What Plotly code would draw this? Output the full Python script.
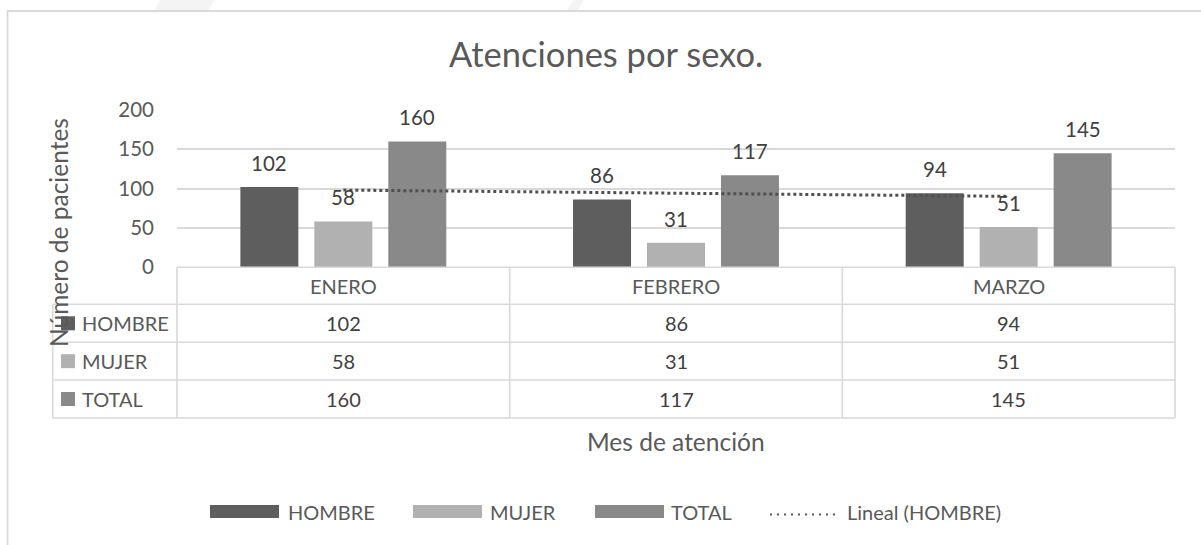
import numpy as np
import plotly.graph_objects as go

# ---------------- data ----------------
months = ["ENERO", "FEBRERO", "MARZO"]
hombre = [102, 86, 94]
mujer = [58, 31, 51]
total = [160, 117, 145]
series_names = ["HOMBRE", "MUJER", "TOTAL"]
trend_name = "Lineal (HOMBRE)"
y_ticks = [0, 50, 100, 150, 200]

title_text = "Atenciones por sexo."
y_title = "Número de pacientes"
x_title = "Mes de atención"

# ---------------- style ----------------
W, H = 1201, 545
L, R, T, B = 177, 1175, 110, 267       # plot area in pixels
FONT = "Lato"
TXT = "#595959"
LBL = "#404040"
GRID = "#d9d9d9"
colors = ["#5e5e5e", "#b1b1b1", "#898989"]
BARGAP = 0.333
GROUPGAP = 0.216


def px(x):
    return (x - L) / (R - L)


def py(y):
    return (B - y) / (B - T)


series = [hombre, mujer, total]

fig = go.Figure()
for name, vals, col in zip(series_names, series, colors):
    fig.add_trace(go.Bar(x=months, y=vals, name=name, marker=dict(color=col, line=dict(width=0)),
                         showlegend=False, hoverinfo="skip"))

# linear trendline of HOMBRE
xi = np.arange(1, len(hombre) + 1)
slope, intercept = np.polyfit(xi, hombre, 1)
trend = slope * xi + intercept
fig.add_trace(go.Scatter(x=months, y=trend, mode="lines", name=trend_name,
                         line=dict(color="#505050", width=3, dash="3px,3px"),
                         showlegend=False, hoverinfo="skip"))

annotations = []
shapes = []

# data labels above bars
slot = (R - L) / len(months) * (1 - BARGAP) / len(series)
for si, vals in enumerate(series):
    for m, v in zip(months, vals):
        annotations.append(dict(x=m, y=v, xref="x", yref="y", text=str(v), showarrow=False,
                                xshift=(si - 1) * slot, yshift=24, yanchor="middle",
                                font=dict(family=FONT, size=20.5, color=LBL)))

# title
annotations.append(dict(x=px(606), y=py(53), xref="paper", yref="paper", text=title_text,
                        showarrow=False, xanchor="center", yanchor="middle",
                        font=dict(family=FONT, size=34.5, color=TXT)))
# axis titles
annotations.append(dict(x=px(58), y=py(233), xref="paper", yref="paper", text=y_title,
                        showarrow=False, textangle=-90, xanchor="center", yanchor="middle",
                        font=dict(family=FONT, size=24.5, color=TXT)))
annotations.append(dict(x=0.5, y=py(441), xref="paper", yref="paper", text=x_title,
                        showarrow=False, xanchor="center", yanchor="middle",
                        font=dict(family=FONT, size=24.5, color=TXT)))

# ---------------- data table ----------------
row_edges = [267.3, 304.3, 342.3, 380.0, 418.0]
tab_left = 52.7
lw = 1.6
shapes.append(dict(type="line", xref="paper", yref="paper", x0=0, x1=1,
                   y0=py(row_edges[0]), y1=py(row_edges[0]), line=dict(color=GRID, width=lw)))
for ye in row_edges[1:]:
    shapes.append(dict(type="line", xref="paper", yref="paper", x0=px(tab_left), x1=1,
                       y0=py(ye), y1=py(ye), line=dict(color=GRID, width=lw)))
shapes.append(dict(type="line", xref="paper", yref="paper", x0=px(tab_left), x1=px(tab_left),
                   y0=py(row_edges[1]), y1=py(row_edges[-1]), line=dict(color=GRID, width=lw)))
for k in range(len(months) + 1):
    xk = k / len(months)
    shapes.append(dict(type="line", xref="paper", yref="paper", x0=xk, x1=xk,
                       y0=py(row_edges[0]), y1=py(row_edges[-1]), line=dict(color=GRID, width=lw)))
for m in months:
    annotations.append(dict(x=m, y=py(286), xref="x", yref="paper", text=m, showarrow=False,
                            xanchor="center", yanchor="middle",
                            font=dict(family=FONT, size=20, color=TXT)))
for ri, (name, vals, col) in enumerate(zip(series_names, series, colors)):
    yc = (row_edges[ri + 1] + row_edges[ri + 2]) / 2
    shapes.append(dict(type="rect", xref="paper", yref="paper", x0=px(61), x1=px(75),
                       y0=py(yc - 7), y1=py(yc + 7), line=dict(width=0), fillcolor=col))
    annotations.append(dict(x=px(79.5), y=py(yc), xref="paper", yref="paper", text=name,
                            showarrow=False, xanchor="left", yanchor="middle",
                            font=dict(family=FONT, size=20, color=TXT)))
    for m, v in zip(months, vals):
        annotations.append(dict(x=m, y=py(yc), xref="x", yref="paper", text=str(v), showarrow=False,
                                xanchor="center", yanchor="middle",
                                font=dict(family=FONT, size=20, color=LBL)))

# ---------------- legend (bottom) ----------------
leg_y = 511.5
leg_swatch = [(210, 279, 286), (413, 482, 488), (595, 664, 669)]
for (x0, x1, xt), name, col in zip(leg_swatch, series_names, colors):
    shapes.append(dict(type="rect", xref="paper", yref="paper", x0=px(x0), x1=px(x1),
                       y0=py(leg_y - 6.5), y1=py(leg_y + 6.5), line=dict(width=0), fillcolor=col))
    annotations.append(dict(x=px(xt), y=py(leg_y), xref="paper", yref="paper", text=name,
                            showarrow=False, xanchor="left", yanchor="middle",
                            font=dict(family=FONT, size=20, color=TXT)))
shapes.append(dict(type="line", xref="paper", yref="paper", x0=px(770), x1=px(838),
                   y0=py(leg_y + 3), y1=py(leg_y + 3), line=dict(color="#595959", width=2, dash="2px,5px")))
annotations.append(dict(x=px(845), y=py(leg_y), xref="paper", yref="paper", text=trend_name,
                        showarrow=False, xanchor="left", yanchor="middle",
                        font=dict(family=FONT, size=20, color=TXT)))

# ---------------- frame & faint background stripes ----------------
shapes.append(dict(type="path", xref="paper", yref="paper", layer="below",
                   path=f"M {px(160)} {py(0)} L {px(214)} {py(0)} L {px(209)} {py(10)} L {px(155)} {py(10)} Z",
                   line=dict(width=0), fillcolor="#f4f4f4"))
shapes.append(dict(type="path", xref="paper", yref="paper", layer="below",
                   path=f"M {px(573)} {py(0)} L {px(584)} {py(0)} L {px(578)} {py(10)} L {px(567)} {py(10)} Z",
                   line=dict(width=0), fillcolor="#f4f4f4"))
shapes.append(dict(type="line", xref="paper", yref="paper", x0=px(7), x1=px(1210),
                   y0=py(11), y1=py(11), line=dict(color=GRID, width=1.8)))
shapes.append(dict(type="line", xref="paper", yref="paper", x0=px(7.5), x1=px(7.5),
                   y0=py(11), y1=py(560), line=dict(color=GRID, width=1.8)))

fig.update_layout(
    width=W, height=H,
    margin=dict(l=L, r=W - R, t=T, b=H - B, pad=0),
    paper_bgcolor="white", plot_bgcolor="white",
    barmode="group", bargap=BARGAP, bargroupgap=GROUPGAP,
    showlegend=False,
    font=dict(family=FONT, color=TXT),
    annotations=annotations, shapes=shapes,
    xaxis=dict(showticklabels=False, showgrid=False, zeroline=False, showline=False,
               ticks="", fixedrange=True),
    yaxis=dict(range=[0, 200], tickvals=y_ticks, showgrid=True, gridcolor=GRID, gridwidth=1.6,
               zeroline=False, showline=False, ticks="", ticklabelstandoff=22,
               tickfont=dict(family=FONT, size=20.5, color=TXT), fixedrange=True),
)

fig.write_html("out.html", config={"displayModeBar": False},
               post_script="document.body.style.margin='0px';document.body.style.overflow='hidden';")
